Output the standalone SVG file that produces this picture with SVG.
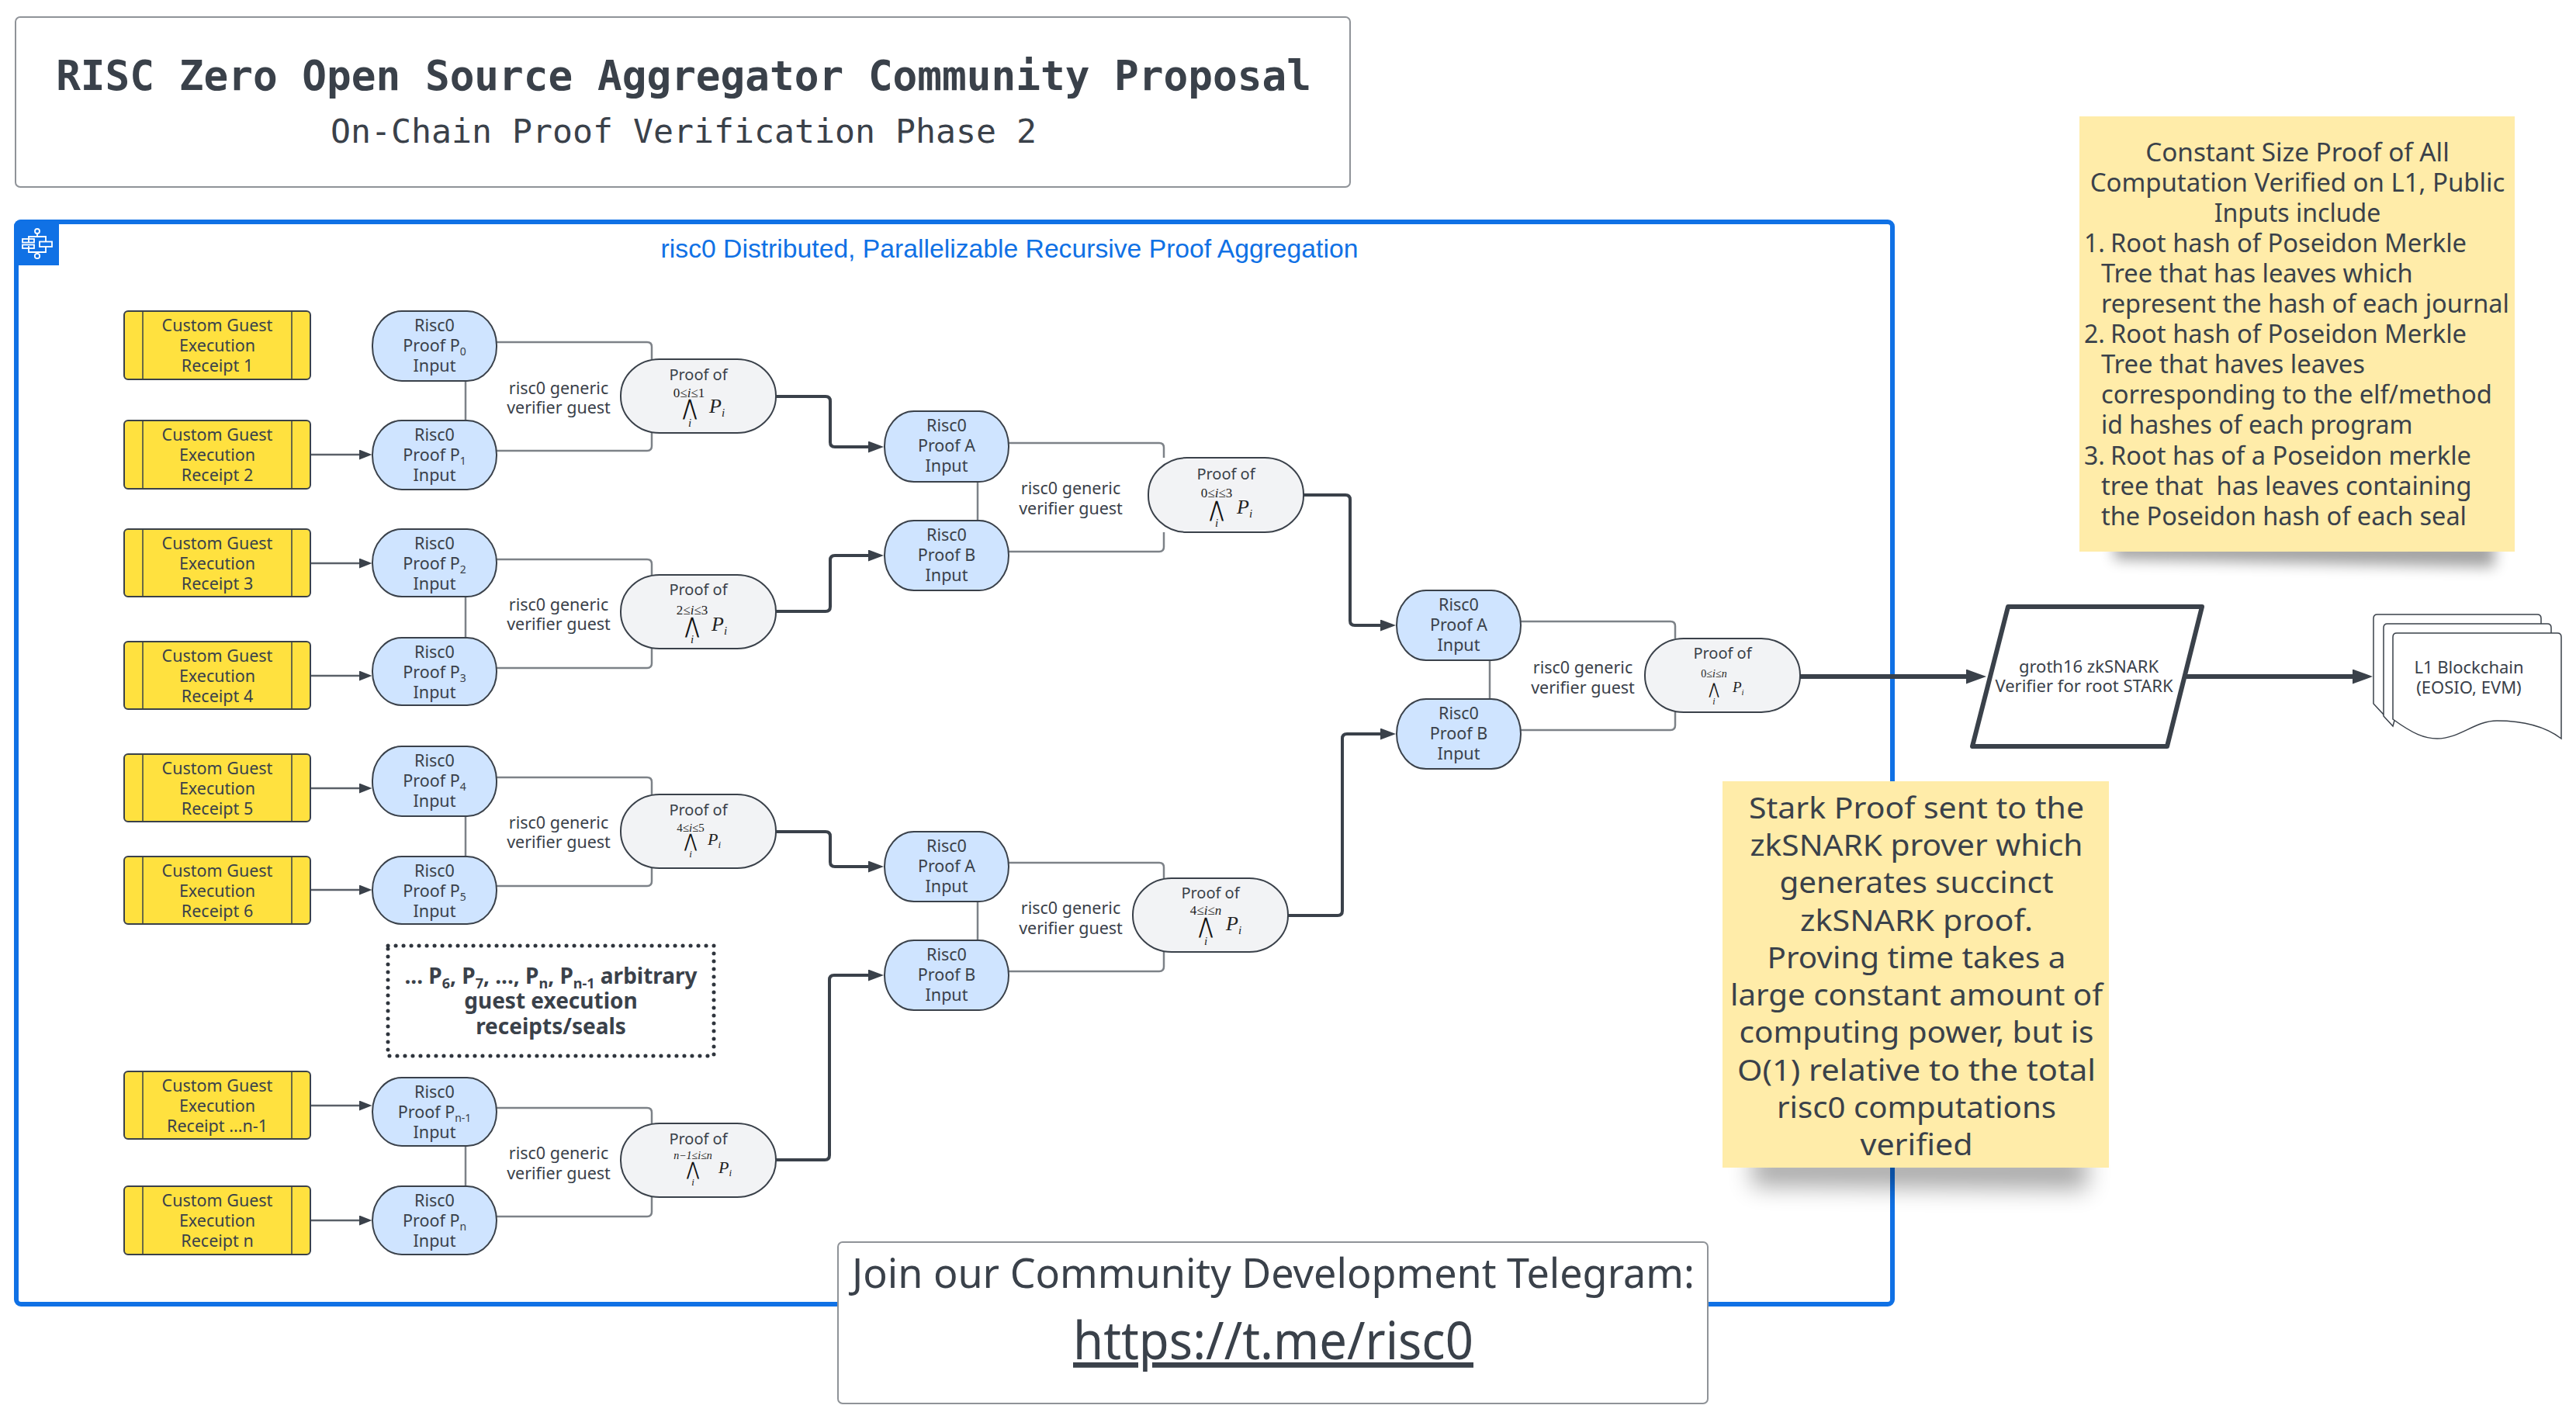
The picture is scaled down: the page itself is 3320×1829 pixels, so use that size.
<svg xmlns="http://www.w3.org/2000/svg" width="3320" height="1829" viewBox="0 0 3320 1829">
<style>
text{font-family:"Noto Sans","Open Sans",sans-serif;fill:#3a414a;text-anchor:middle}
.n{font-size:21.500px}
.n22{font-size:22px}
.pf{font-size:20px}
.l{font-size:21.500px}
.sub{font-size:14px}
.y{fill:#ffe13f;stroke:#3a414a;stroke-width:2}
.yl{stroke:#3a414a;stroke-width:1.5;fill:none}
.b{fill:#cfe4ff;stroke:#3a414a;stroke-width:2}
.g{fill:#f2f3f5;stroke:#3a414a;stroke-width:2}
.c{fill:none;stroke:#7d8288;stroke-width:2.5}
.a1{fill:none;stroke:#5a6068;stroke-width:2.5;marker-end:url(#h1)}
.a2{fill:none;stroke:#3a414a;stroke-width:4;marker-end:url(#h2)}
.a3{fill:none;stroke:#3a414a;stroke-width:6;marker-end:url(#h3)}
.m{font-family:"Liberation Serif",serif;fill:#222}
.mi{font-family:"Liberation Serif",serif;font-style:italic;fill:#222}
.ps{font-family:"Liberation Serif",serif;font-style:italic;fill:#222;text-anchor:start}
.w{font-family:"DejaVu Sans",sans-serif;fill:#111}
.note{fill:#ffeca9}
.n1{font-size:32px;text-anchor:start}
.n1c{font-size:32px}
.n2{font-size:38px}
.box{fill:#fff;stroke:#8f9398;stroke-width:2}
.doc{fill:#fff;stroke:#3a414a;stroke-width:1.5}
</style>
<defs>
<marker id="h1" markerUnits="userSpaceOnUse" markerWidth="17" markerHeight="14" refX="2" refY="6.5" orient="auto"><path d="M0 0L16.500 6.500L0 13z" fill="#3a414a"/></marker>
<marker id="h2" markerUnits="userSpaceOnUse" markerWidth="21" markerHeight="16" refX="2" refY="7.500" orient="auto"><path d="M0 0L20 7.500L0 15z" fill="#3a414a"/></marker>
<marker id="h3" markerUnits="userSpaceOnUse" markerWidth="27" markerHeight="20" refX="2" refY="9.500" orient="auto"><path d="M0 0L26 9.500L0 19z" fill="#3a414a"/></marker>
<filter id="blur" x="-20%" y="-150%" width="140%" height="400%"><feGaussianBlur stdDeviation="9"/></filter>
<filter id="blur2" x="-20%" y="-150%" width="140%" height="400%"><feGaussianBlur stdDeviation="15"/></filter>
</defs>
<g transform="translate(0,1)">
<g id="title">
<rect class="box" x="20" y="21" width="1720" height="219" rx="6"/>
<text x="881" y="115" style="font-family:'DejaVu Sans Mono',monospace;font-weight:bold;font-size:52.700px">RISC Zero Open Source Aggregator Community Proposal</text>
<text x="881" y="183" style="font-family:'DejaVu Sans Mono',monospace;font-size:43.200px">On-Chain Proof Verification Phase 2</text>
</g>

<g id="container">
<rect x="21" y="285" width="2418" height="1395" rx="6" fill="#fff" stroke="#1071e5" stroke-width="6"/>
<path d="M18 341V292Q18 282 28 282H76V341z" fill="#1071e5"/>
<g fill="none" stroke="#fff" stroke-width="1.800">
<circle cx="48" cy="297" r="3"/><circle cx="48" cy="329" r="3.200"/>
<path d="M48 300V304M37 311V304H59V310M37 316V324H59V317M48 324V326"/>
<rect x="29" y="307" width="15" height="4.500"/><rect x="29" y="314.500" width="15" height="4.500"/><rect x="51" y="310.500" width="16" height="6.500"/>
</g>
<text x="1301" y="331" style="font-family:'Liberation Sans',sans-serif;font-size:33.700px;fill:#1071e5">risc0 Distributed, Parallelizable Recursive Proof Aggregation</text>
</g>

<g id="connectors">
<path class="c" d="M640 440H834Q840 440 840 446V462M640 580H834Q840 580 840 574V557M600 490V541"/>
<path class="c" d="M640 720H834Q840 720 840 726V740M640 860H834Q840 860 840 854V835M600 768V822"/>
<path class="c" d="M640 1001H834Q840 1001 840 1007V1023M640 1141H834Q840 1141 840 1135V1118M600 1051V1103"/>
<path class="c" d="M640 1427H834Q840 1427 840 1433V1447M640 1567H834Q840 1567 840 1561V1542M600 1476V1528"/>
<path class="c" d="M1300 570H1494Q1500 570 1500 576V589M1300 710H1494Q1500 710 1500 704V685M1260 620V670"/>
<path class="c" d="M1300 1111H1494Q1500 1111 1500 1117V1131M1300 1251H1494Q1500 1251 1500 1245V1226M1260 1161V1211"/>
<path class="c" d="M1960 800H2153Q2159 800 2159 806V822M1960 940H2153Q2159 940 2159 934V917M1920 850V900"/>
<path class="a1" d="M400 585H465"/>
<path class="a1" d="M400 725H465"/>
<path class="a1" d="M400 870H465"/>
<path class="a1" d="M400 1015H465"/>
<path class="a1" d="M400 1146H465"/>
<path class="a1" d="M400 1424H465"/>
<path class="a1" d="M400 1572H465"/>
<path class="a2" d="M1000 510H1064Q1070 510 1070 516V569Q1070 575 1076 575H1121"/>
<path class="a2" d="M1000 787H1064Q1070 787 1070 781V721Q1070 715 1076 715H1121"/>
<path class="a2" d="M1000 1071H1064Q1070 1071 1070 1077V1110Q1070 1116 1076 1116H1121"/>
<path class="a2" d="M1000 1494H1063Q1069 1494 1069 1488V1262Q1069 1256 1075 1256H1121"/>
<path class="a2" d="M1680 637H1734Q1740 637 1740 643V799Q1740 805 1746 805H1781"/>
<path class="a2" d="M1660 1179H1724Q1730 1179 1730 1173V951Q1730 945 1736 945H1781"/>
<path class="a3" d="M2320 871H2536"/>
<path class="a3" d="M2818 871H3034"/>
</g>

<g id="receipt1"><rect class="y" x="160" y="400" width="240" height="88" rx="5"/><path class="yl" d="M184 400V488M376 400V488"/><text class="n" x="280" y="426">Custom Guest</text><text class="n" x="280" y="452">Execution</text><text class="n" x="280" y="478">Receipt 1</text></g>
<g id="receipt2"><rect class="y" x="160" y="541" width="240" height="88" rx="5"/><path class="yl" d="M184 541V629M376 541V629"/><text class="n" x="280" y="567">Custom Guest</text><text class="n" x="280" y="593">Execution</text><text class="n" x="280" y="619">Receipt 2</text></g>
<g id="receipt3"><rect class="y" x="160" y="681" width="240" height="87" rx="5"/><path class="yl" d="M184 681V768M376 681V768"/><text class="n" x="280" y="707">Custom Guest</text><text class="n" x="280" y="733">Execution</text><text class="n" x="280" y="759">Receipt 3</text></g>
<g id="receipt4"><rect class="y" x="160" y="826" width="240" height="87" rx="5"/><path class="yl" d="M184 826V913M376 826V913"/><text class="n" x="280" y="852">Custom Guest</text><text class="n" x="280" y="878">Execution</text><text class="n" x="280" y="904">Receipt 4</text></g>
<g id="receipt5"><rect class="y" x="160" y="971" width="240" height="87" rx="5"/><path class="yl" d="M184 971V1058M376 971V1058"/><text class="n" x="280" y="997">Custom Guest</text><text class="n" x="280" y="1023">Execution</text><text class="n" x="280" y="1049">Receipt 5</text></g>
<g id="receipt6"><rect class="y" x="160" y="1103" width="240" height="87" rx="5"/><path class="yl" d="M184 1103V1190M376 1103V1190"/><text class="n" x="280" y="1129">Custom Guest</text><text class="n" x="280" y="1155">Execution</text><text class="n" x="280" y="1181">Receipt 6</text></g>
<g id="receipt7"><rect class="y" x="160" y="1380" width="240" height="87" rx="5"/><path class="yl" d="M184 1380V1467M376 1380V1467"/><text class="n" x="280" y="1406">Custom Guest</text><text class="n" x="280" y="1432">Execution</text><text class="n" x="280" y="1458">Receipt ...n-1</text></g>
<g id="receipt8"><rect class="y" x="160" y="1528" width="240" height="88" rx="5"/><path class="yl" d="M184 1528V1616M376 1528V1616"/><text class="n" x="280" y="1554">Custom Guest</text><text class="n" x="280" y="1580">Execution</text><text class="n" x="280" y="1606">Receipt n</text></g>

<g id="p0"><rect class="b" x="480" y="400" width="160" height="90" rx="38" ry="44"/><text class="n" x="560" y="426">Risc0</text><text class="n" x="560" y="452">Proof P<tspan class="sub" dy="5">0</tspan></text><text class="n" x="560" y="478">Input</text></g>
<g id="p1"><rect class="b" x="480" y="541" width="160" height="89" rx="38" ry="44"/><text class="n" x="560" y="567">Risc0</text><text class="n" x="560" y="593">Proof P<tspan class="sub" dy="5">1</tspan></text><text class="n" x="560" y="619">Input</text></g>
<g id="p2"><rect class="b" x="480" y="681" width="160" height="87" rx="38" ry="43"/><text class="n" x="560" y="707">Risc0</text><text class="n" x="560" y="733">Proof P<tspan class="sub" dy="5">2</tspan></text><text class="n" x="560" y="759">Input</text></g>
<g id="p3"><rect class="b" x="480" y="821" width="160" height="87" rx="38" ry="43"/><text class="n" x="560" y="847">Risc0</text><text class="n" x="560" y="873">Proof P<tspan class="sub" dy="5">3</tspan></text><text class="n" x="560" y="899">Input</text></g>
<g id="p4"><rect class="b" x="480" y="961" width="160" height="90" rx="38" ry="44"/><text class="n" x="560" y="987">Risc0</text><text class="n" x="560" y="1013">Proof P<tspan class="sub" dy="5">4</tspan></text><text class="n" x="560" y="1039">Input</text></g>
<g id="p5"><rect class="b" x="480" y="1103" width="160" height="87" rx="38" ry="43"/><text class="n" x="560" y="1129">Risc0</text><text class="n" x="560" y="1155">Proof P<tspan class="sub" dy="5">5</tspan></text><text class="n" x="560" y="1181">Input</text></g>
<g id="pn1"><rect class="b" x="480" y="1388" width="160" height="88" rx="38" ry="44"/><text class="n" x="560" y="1414">Risc0</text><text class="n" x="560" y="1440">Proof P<tspan class="sub" dy="5">n-1</tspan></text><text class="n" x="560" y="1466">Input</text></g>
<g id="pn"><rect class="b" x="480" y="1528" width="160" height="88" rx="38" ry="44"/><text class="n" x="560" y="1554">Risc0</text><text class="n" x="560" y="1580">Proof P<tspan class="sub" dy="5">n</tspan></text><text class="n" x="560" y="1606">Input</text></g>

<g id="a1"><rect class="b" x="1140" y="529" width="160" height="91" rx="38" ry="45"/><text class="n" x="1220" y="555">Risc0</text><text class="n" x="1220" y="581">Proof A</text><text class="n" x="1220" y="607">Input</text></g>
<g id="b1"><rect class="b" x="1140" y="670" width="160" height="90" rx="38" ry="45"/><text class="n" x="1220" y="696">Risc0</text><text class="n" x="1220" y="722">Proof B</text><text class="n" x="1220" y="748">Input</text></g>
<g id="a2"><rect class="b" x="1140" y="1071" width="160" height="90" rx="38" ry="45"/><text class="n" x="1220" y="1097">Risc0</text><text class="n" x="1220" y="1123">Proof A</text><text class="n" x="1220" y="1149">Input</text></g>
<g id="b2"><rect class="b" x="1140" y="1211" width="160" height="90" rx="38" ry="45"/><text class="n" x="1220" y="1237">Risc0</text><text class="n" x="1220" y="1263">Proof B</text><text class="n" x="1220" y="1289">Input</text></g>
<g id="a3"><rect class="b" x="1800" y="760" width="160" height="90" rx="38" ry="45"/><text class="n" x="1880" y="786">Risc0</text><text class="n" x="1880" y="812">Proof A</text><text class="n" x="1880" y="838">Input</text></g>
<g id="b3"><rect class="b" x="1800" y="900" width="160" height="90" rx="38" ry="45"/><text class="n" x="1880" y="926">Risc0</text><text class="n" x="1880" y="952">Proof B</text><text class="n" x="1880" y="978">Input</text></g>

<g id="labels">
<text class="l" x="720" y="507">risc0 generic</text><text class="l" x="720" y="532">verifier guest</text>
<text class="l" x="720" y="786">risc0 generic</text><text class="l" x="720" y="811">verifier guest</text>
<text class="l" x="720" y="1067">risc0 generic</text><text class="l" x="720" y="1092">verifier guest</text>
<text class="l" x="720" y="1493">risc0 generic</text><text class="l" x="720" y="1519">verifier guest</text>
<text class="l" x="1380" y="636">risc0 generic</text><text class="l" x="1380" y="662">verifier guest</text>
<text class="l" x="1380" y="1177">risc0 generic</text><text class="l" x="1380" y="1203">verifier guest</text>
<text class="l" x="2040" y="867">risc0 generic</text><text class="l" x="2040" y="893">verifier guest</text>
</g>

<g id="proof01"><rect class="g" x="800" y="462" width="200" height="95" rx="50" ry="47"/><text class="pf" x="900" y="489">Proof of</text>
<text class="m" x="888" y="511" font-size="17">0≤<tspan class="mi">i</tspan>≤1</text><text class="w" x="889" y="534" font-size="28" textLength="18" lengthAdjust="spacingAndGlyphs">⋀</text><text class="mi" x="889" y="549" font-size="15">i</text><text class="ps" x="914" y="531" font-size="26">P<tspan font-size="15" dy="5">i</tspan></text></g>
<g id="proof23"><rect class="g" x="800" y="740" width="200" height="95" rx="50" ry="47"/><text class="pf" x="900" y="766">Proof of</text>
<text class="m" x="892" y="791" font-size="17">2≤<tspan class="mi">i</tspan>≤3</text><text class="w" x="892" y="815" font-size="28" textLength="18" lengthAdjust="spacingAndGlyphs">⋀</text><text class="mi" x="892" y="828" font-size="15">i</text><text class="ps" x="917" y="812" font-size="26">P<tspan font-size="15" dy="5">i</tspan></text></g>
<g id="proof45"><rect class="g" x="800" y="1023" width="200" height="95" rx="50" ry="47"/><text class="pf" x="900" y="1050">Proof of</text>
<text class="m" x="890" y="1071" font-size="15">4≤<tspan class="mi">i</tspan>≤5</text><text class="w" x="890" y="1091" font-size="24" textLength="16" lengthAdjust="spacingAndGlyphs">⋀</text><text class="mi" x="890" y="1104" font-size="13">i</text><text class="ps" x="912" y="1088" font-size="22">P<tspan font-size="13" dy="4">i</tspan></text></g>
<g id="proofn1n"><rect class="g" x="800" y="1447" width="200" height="95" rx="50" ry="47"/><text class="pf" x="900" y="1474">Proof of</text>
<text class="mi" x="893" y="1493" font-size="14">n−1≤i≤n</text><text class="w" x="893" y="1514" font-size="24" textLength="16" lengthAdjust="spacingAndGlyphs">⋀</text><text class="mi" x="893" y="1527" font-size="13">i</text><text class="ps" x="926" y="1511" font-size="22">P<tspan font-size="13" dy="4">i</tspan></text></g>
<g id="proof03"><rect class="g" x="1480" y="589" width="200" height="96" rx="50" ry="47"/><text class="pf" x="1580" y="617">Proof of</text>
<text class="m" x="1568" y="640" font-size="17">0≤<tspan class="mi">i</tspan>≤3</text><text class="w" x="1568" y="665" font-size="28" textLength="18" lengthAdjust="spacingAndGlyphs">⋀</text><text class="mi" x="1568" y="678" font-size="15">i</text><text class="ps" x="1594" y="661" font-size="26">P<tspan font-size="15" dy="5">i</tspan></text></g>
<g id="proof4n"><rect class="g" x="1460" y="1131" width="200" height="95" rx="50" ry="47"/><text class="pf" x="1560" y="1157">Proof of</text>
<text class="m" x="1554" y="1178" font-size="17">4≤<tspan class="mi">i</tspan>≤<tspan class="mi">n</tspan></text><text class="w" x="1554" y="1202" font-size="28" textLength="18" lengthAdjust="spacingAndGlyphs">⋀</text><text class="mi" x="1554" y="1217" font-size="15">i</text><text class="ps" x="1580" y="1198" font-size="26">P<tspan font-size="15" dy="5">i</tspan></text></g>
<g id="proof0n"><rect class="g" x="2120" y="822" width="200" height="95" rx="50" ry="47"/><text class="pf" x="2220" y="848">Proof of</text>
<text class="m" x="2209" y="872" font-size="14">0≤<tspan class="mi">i</tspan>≤<tspan class="mi">n</tspan></text><text class="w" x="2209" y="894" font-size="20" textLength="13" lengthAdjust="spacingAndGlyphs">⋀</text><text class="mi" x="2209" y="907" font-size="12">i</text><text class="ps" x="2233" y="891" font-size="19">P<tspan font-size="11" dy="4">i</tspan></text></g>

<g id="arbitrary">
<rect x="500" y="1218" width="420" height="142" fill="none" stroke="#2f353d" stroke-width="5" stroke-dasharray="0.1 9.900" stroke-linecap="round"/>
<text x="710" y="1267" style="font-size:28px;font-weight:bold">... P<tspan font-size="18" dy="6">6</tspan><tspan dy="-6">, P</tspan><tspan font-size="18" dy="6">7</tspan><tspan dy="-6">, ..., P</tspan><tspan font-size="18" dy="6">n</tspan><tspan dy="-6">, P</tspan><tspan font-size="18" dy="6">n-1</tspan><tspan dy="-6"> arbitrary</tspan></text>
<text x="710" y="1299" style="font-size:28px;font-weight:bold">guest execution</text>
<text x="710" y="1332" style="font-size:28px;font-weight:bold">receipts/seals</text>
</g>

<g id="groth16">
<path d="M2588 781H2838L2793 961H2542z" fill="#fff" stroke="#3a414a" stroke-width="6" stroke-linejoin="round"/>
<text class="n22" x="2692" y="866">groth16 zkSNARK</text><text class="n22" x="2686" y="891">Verifier for root STARK</text>
</g>

<g id="l1">
<path class="doc" d="M3059 906V796Q3059 791 3064 791H3270Q3275 791 3275 796V830H3100L3072 920z"/>
<path class="doc" d="M3072 922V808Q3072 803 3077 803H3283Q3288 803 3288 808V840H3110L3084 935z"/>
<path class="doc" d="M3084 926V820Q3084 815 3089 815H3296Q3301 815 3301 820V951C3280 935 3250 928 3218 928C3190 928 3170 951 3141 951C3125 951 3110 945 3084 926z"/>
<text class="n22" x="3182" y="867">L1 Blockchain</text><text class="n22" x="3182" y="893">(EOSIO, EVM)</text>
</g>

<g id="note1">
<path d="M2725 695H3215V730L2725 720z" fill="#000" opacity="0.36" filter="url(#blur)"/>
<rect class="note" x="2680" y="149" width="561" height="561"/>
<text class="n1c" x="2961" y="206.500" textLength="391.600" lengthAdjust="spacingAndGlyphs">Constant Size Proof of All</text>
<text class="n1c" x="2961" y="245.600" textLength="534.700" lengthAdjust="spacingAndGlyphs">Computation Verified on L1, Public</text>
<text class="n1c" x="2961" y="284.700" textLength="214.700" lengthAdjust="spacingAndGlyphs">Inputs include</text>
<text class="n1" x="2686" y="323.800">1.</text><text class="n1" x="2720" y="323.800" textLength="459" lengthAdjust="spacingAndGlyphs">Root hash of Poseidon Merkle</text>
<text class="n1" x="2708" y="362.900" textLength="401.600" lengthAdjust="spacingAndGlyphs">Tree that has leaves which</text>
<text class="n1" x="2708" y="402" textLength="526" lengthAdjust="spacingAndGlyphs">represent the hash of each journal</text>
<text class="n1" x="2686" y="441.100">2.</text><text class="n1" x="2720" y="441.100" textLength="459" lengthAdjust="spacingAndGlyphs">Root hash of Poseidon Merkle</text>
<text class="n1" x="2708" y="480.200" textLength="340" lengthAdjust="spacingAndGlyphs">Tree that haves leaves</text>
<text class="n1" x="2708" y="519.300" textLength="504" lengthAdjust="spacingAndGlyphs">corresponding to the elf/method</text>
<text class="n1" x="2708" y="558.400" textLength="401.600" lengthAdjust="spacingAndGlyphs">id hashes of each program</text>
<text class="n1" x="2686" y="597.500">3.</text><text class="n1" x="2720" y="597.500" textLength="465" lengthAdjust="spacingAndGlyphs">Root has of a Poseidon merkle</text>
<text class="n1" x="2708" y="636.600" textLength="477.500" lengthAdjust="spacingAndGlyphs" xml:space="preserve">tree that  has leaves containing</text>
<text class="n1" x="2708" y="675.700" textLength="471" lengthAdjust="spacingAndGlyphs">the Poseidon hash of each seal</text>
</g>

<g id="note2">
<path d="M2258 1485H2690V1532L2258 1528z" fill="#000" opacity="0.33" filter="url(#blur2)"/>
<rect class="note" x="2220" y="1006" width="498" height="498"/>
<text class="n2" x="2470" y="1053.600" textLength="432" lengthAdjust="spacingAndGlyphs">Stark Proof sent to the</text>
<text class="n2" x="2470" y="1101.900" textLength="429" lengthAdjust="spacingAndGlyphs">zkSNARK prover which</text>
<text class="n2" x="2470" y="1150.200" textLength="353" lengthAdjust="spacingAndGlyphs">generates succinct</text>
<text class="n2" x="2470" y="1198.500" textLength="300" lengthAdjust="spacingAndGlyphs">zkSNARK proof.</text>
<text class="n2" x="2470" y="1246.800" textLength="385" lengthAdjust="spacingAndGlyphs">Proving time takes a</text>
<text class="n2" x="2470" y="1295.100" textLength="480" lengthAdjust="spacingAndGlyphs">large constant amount of</text>
<text class="n2" x="2470" y="1343.400" textLength="457" lengthAdjust="spacingAndGlyphs">computing power, but is</text>
<text class="n2" x="2470" y="1391.700" textLength="462" lengthAdjust="spacingAndGlyphs">O(1) relative to the total</text>
<text class="n2" x="2470" y="1440" textLength="360" lengthAdjust="spacingAndGlyphs">risc0 computations</text>
<text class="n2" x="2470" y="1488.300" textLength="145" lengthAdjust="spacingAndGlyphs">verified</text>
</g>

<g id="join">
<rect class="box" x="1080" y="1600" width="1121" height="208" rx="6"/>
<text x="1641" y="1659" textLength="1086" lengthAdjust="spacingAndGlyphs" style="font-size:52px">Join our Community Development Telegram:</text>
<text x="1641" y="1751" textLength="516" lengthAdjust="spacingAndGlyphs" style="font-size:68px;text-decoration:underline">https://t.me/risc0</text>
</g>
</g>
</svg>
